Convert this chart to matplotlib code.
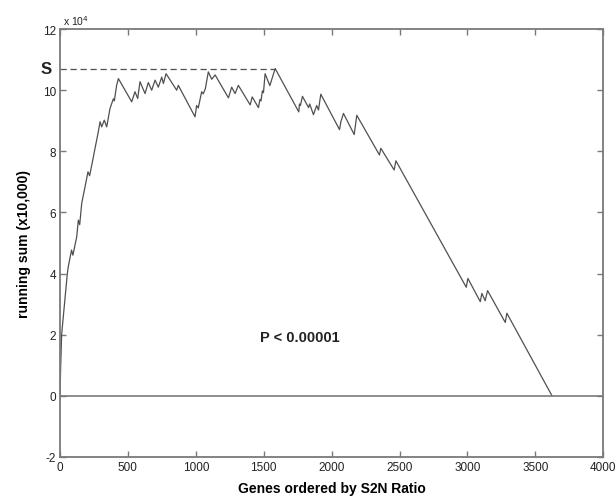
import matplotlib
matplotlib.use("Agg")
import matplotlib.pyplot as plt
import matplotlib.transforms as mtransforms

plt.rcParams['font.family'] = ['Liberation Sans', 'DejaVu Sans']
plt.rcParams['axes.unicode_minus'] = False

# running sum vertices (genes, value in units of 1e4)
genes = [0, 5, 12, 54, 60, 85, 95, 123, 135, 145, 160, 196, 206, 218, 245, 258,
         282, 295, 307, 326, 344, 368, 393, 400, 417, 430, 528, 552, 572, 589,
         626, 650, 675, 700, 724, 749, 761, 781, 859, 871, 994, 1006, 1018, 1043,
         1055, 1070, 1092, 1117, 1142, 1240, 1264, 1289, 1313, 1400, 1415, 1461,
         1472, 1480, 1490, 1498, 1510, 1545, 1584, 1758, 1763, 1770, 1785, 1830,
         1838, 1866, 1890, 1903, 1920, 2058, 2068, 2087, 2166, 2185, 2352, 2362,
         2460, 2473, 2991, 3003, 3094, 3106, 3130, 3148, 3278, 3290, 3622]
running_sum = [0, 0.95, 2.0, 4.0, 4.2, 4.77, 4.6, 5.2, 5.75, 5.6, 6.3, 7.1, 7.33, 7.2, 7.8, 8.1,
               8.64, 8.97, 8.8, 9.02, 8.8, 9.4, 9.72, 9.65, 10.16, 10.38, 9.62, 9.95, 9.73, 10.28,
               9.89, 10.25, 10.0, 10.33, 10.1, 10.43, 10.22, 10.54, 10.0, 10.16, 9.13, 9.5, 9.42, 9.95,
               9.88, 10.05, 10.6, 10.36, 10.5, 9.75, 10.1, 9.89, 10.16, 9.52, 9.78, 9.43,
               9.7, 9.65, 9.98, 9.92, 10.54, 10.15, 10.71, 9.29, 9.55, 9.5, 9.8, 9.43,
               9.55, 9.2, 9.5, 9.35, 9.87, 8.71, 8.97, 9.24, 8.55, 9.18, 7.88, 8.1,
               7.39, 7.69, 3.55, 3.84, 3.08, 3.35, 3.11, 3.44, 2.40, 2.70, 0.0]
s_value = 10.71
s_gene = 1584
xticks = [0, 500, 1000, 1500, 2000, 2500, 3000, 3500, 4000]
yticks = [-2, 0, 2, 4, 6, 8, 10, 12]

line_col = '#505050'
frame_col = '#7a7a7a'

fig = plt.figure(figsize=(6.16, 5.02), dpi=100)
ax = fig.add_axes([0.0974, 0.088, 0.882, 0.852])

ax.plot(genes, running_sum, color=line_col, lw=0.9)
ax.axhline(0, color=frame_col, lw=1.2)
ax.plot([0, s_gene], [s_value, s_value], color=line_col, lw=0.9, ls=(0, (5, 3)))

ax.set_xlim(0, 4000)
ax.set_ylim(-2, 12)
ax.set_xticks(xticks)
ax.set_yticks(yticks)
ax.tick_params(direction='in', top=True, right=True, length=4, width=1,
               color=frame_col, labelsize=8.5, labelcolor='#222222', pad=3)
for sp in ax.spines.values():
    sp.set_color(frame_col)
    sp.set_linewidth(1.3)

ax.set_xlabel('Genes ordered by S2N Ratio', fontsize=10, fontweight='bold', labelpad=6)
ax.set_ylabel('running sum (x10,000)', fontsize=10, fontweight='bold', labelpad=8)

ax.text(0.005, 1.005, r'x 10$^4$', transform=ax.transAxes, fontsize=7.5,
        ha='left', va='bottom', color='#222222')
trans = mtransforms.blended_transform_factory(ax.transAxes, ax.transData)
ax.text(-0.015, s_value, 'S', transform=trans, fontsize=12, fontweight='bold',
        ha='right', va='center', color='#222222')
ax.text(1768, 1.93, 'P < 0.00001', fontsize=10.5, fontweight='bold',
        ha='center', va='center', color='#222222')

fig.savefig('out.png', dpi=100)
